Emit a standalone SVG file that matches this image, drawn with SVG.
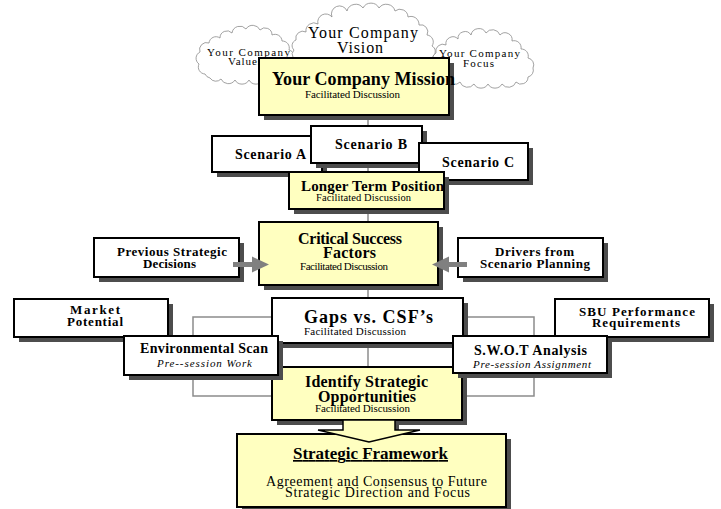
<svg xmlns="http://www.w3.org/2000/svg" width="721" height="509" viewBox="0 0 721 509">
<style>
.box{fill:#fff;stroke:#000;stroke-width:2}
.ybox{fill:#FFFFC0;stroke:#000;stroke-width:2}
.sh{fill:#4d4d4d}
.conn{stroke:#8c8c8c;stroke-width:1.5;fill:none}
.garrow{fill:#808080}
.cloud{fill:#fff;stroke:#8a8a8a;stroke-width:0.8}
text{font-family:"Liberation Serif","Times New Roman",serif;fill:#000}
.b{font-weight:bold}
.i{font-style:italic}
</style>
<rect width="721" height="509" fill="#fff"/>

<g id="clouds">
  <g id="cloud-values">
    <path class="cloud" d="M205,74 A7,7 0 0 1 199,64 A7,7 0 0 1 200,52 A7,7 0 0 1 209,43 A7,7 0 0 1 220,38 A7,7 0 0 1 232,33 A8,8 0 0 1 246,29 A8,8 0 0 1 260,30 A7,7 0 0 1 272,35 A7,7 0 0 1 282,41 A7,7 0 0 1 289,50 A7,7 0 0 1 293,61 A7,7 0 0 1 288,71 A7,7 0 0 1 277,78 A8,8 0 0 1 263,80 A8,8 0 0 1 249,80 A8,8 0 0 1 235,80 A8,8 0 0 1 221,79 A7,7 0 0 1 210,78 A7,7 0 0 1 205,74 Z"/>
    <text x="207" y="56" font-size="11" textLength="83">Your Company</text>
    <text x="228" y="65" font-size="11" textLength="34">Values</text>
  </g>
  <g id="cloud-focus">
    <path class="cloud" d="M440,74 A7,7 0 0 1 434,64 A7,7 0 0 1 436,53 A7,7 0 0 1 446,45 A7,7 0 0 1 458,39 A7,7 0 0 1 471,35 A8,8 0 0 1 486,33 A8,8 0 0 1 500,35 A7,7 0 0 1 512,41 A7,7 0 0 1 521,49 A7,7 0 0 1 528,58 A7,7 0 0 1 533,68 A7,7 0 0 1 528,77 A7,7 0 0 1 516,82 A8,8 0 0 1 502,84 A8,8 0 0 1 488,84 A8,8 0 0 1 474,84 A8,8 0 0 1 460,82 A7,7 0 0 1 448,79 A7,7 0 0 1 440,74 Z"/>
    <text x="439" y="57" font-size="11" textLength="81">Your Company</text>
    <text x="463" y="67" font-size="11" textLength="31">Focus</text>
  </g>
  <g id="cloud-vision">
    <path class="cloud" d="M300,60 A6,6 0 0 1 294,50 A6,6 0 0 1 296,40 A7,7 0 0 1 306,32 A8,8 0 0 1 318,24 A8,8 0 0 1 332,17 A8,8 0 0 1 347,11 A9,9 0 0 1 363,8 A9,9 0 0 1 379,8 A9,9 0 0 1 395,11 A8,8 0 0 1 408,17 A8,8 0 0 1 419,25 A7,7 0 0 1 427,35 A7,7 0 0 1 432,46 A6,6 0 0 1 433,56 A10,10 0 0 1 415,62 A11,11 0 0 1 395,64 A13,13 0 0 1 370,65 A13,13 0 0 1 345,64 A13,13 0 0 1 320,63 A11,11 0 0 1 300,60 Z"/>
    <text x="308" y="38" font-size="16" textLength="110">Your Company</text>
    <text x="337" y="53" font-size="16" textLength="46">Vision</text>
  </g>
</g>

<g id="connectors">
  <line class="conn" x1="368" y1="115" x2="368" y2="126"/>
  <line class="conn" x1="368" y1="163" x2="368" y2="172"/>
  <line class="conn" x1="368" y1="209" x2="368" y2="222"/>
  <line class="conn" x1="368" y1="285" x2="368" y2="298"/>
  <line class="conn" x1="368" y1="343" x2="368" y2="367"/>
  <polyline class="conn" points="272,317 193,317 193,396 272,396"/>
  <polyline class="conn" points="463,317 534,317 534,396 462,396"/>
</g>

<g id="mission">
  <rect class="sh" x="264" y="63" width="190" height="57"/>
  <rect class="ybox" x="259" y="58" width="190" height="57"/>
  <text class="b" x="272" y="85" font-size="18" textLength="183">Your Company Mission</text>
  <text x="305" y="98" font-size="11" textLength="95">Facilitated Discussion</text>
</g>

<g id="scenario-a">
  <rect class="sh" x="217" y="141" width="110" height="36"/>
  <rect class="box" x="212" y="136" width="110" height="36"/>
  <text class="b" x="235" y="159" font-size="14" textLength="71">Scenario A</text>
</g>
<g id="scenario-b">
  <rect class="sh" x="316" y="131" width="111" height="37"/>
  <rect class="box" x="311" y="126" width="111" height="37"/>
  <text class="b" x="335" y="149" font-size="14" textLength="72">Scenario B</text>
</g>
<g id="scenario-c">
  <rect class="sh" x="424" y="148" width="109" height="37"/>
  <rect class="box" x="419" y="143" width="109" height="37"/>
  <text class="b" x="442" y="167" font-size="14" textLength="72">Scenario C</text>
</g>

<g id="longer-term">
  <rect class="sh" x="294" y="177" width="155" height="37"/>
  <rect class="ybox" x="289" y="172" width="155" height="37"/>
  <text class="b" x="301" y="191" font-size="15" textLength="143">Longer Term Position</text>
  <text x="316" y="201" font-size="10.5" textLength="95">Facilitated Discussion</text>
</g>

<g id="previous">
  <rect class="sh" x="99" y="243" width="145" height="39"/>
  <rect class="box" x="94" y="238" width="145" height="39"/>
  <text class="b" x="117" y="256" font-size="13" textLength="110">Previous Strategic</text>
  <text class="b" x="143" y="268" font-size="13" textLength="53">Decisions</text>
</g>

<g id="drivers">
  <rect class="sh" x="463" y="243" width="145" height="39"/>
  <rect class="box" x="458" y="238" width="145" height="39"/>
  <text class="b" x="495" y="256" font-size="13" textLength="79">Drivers from</text>
  <text class="b" x="480" y="268" font-size="13" textLength="110">Scenario Planning</text>
</g>

<g id="csf">
  <rect class="sh" x="264" y="227" width="179" height="63"/>
  <rect class="ybox" x="259" y="222" width="179" height="63"/>
  <text class="b" x="298" y="244" font-size="16" textLength="104">Critical Success</text>
  <text class="b" x="323" y="258" font-size="16" textLength="53">Factors</text>
  <text x="300" y="270" font-size="11" textLength="88">Facilitated Discussion</text>
</g>

<g id="side-arrows">
  <rect class="garrow" x="233" y="262" width="21" height="5"/>
  <polygon class="garrow" points="252,256.5 269,264.5 252,272.5"/>
  <rect class="garrow" x="447" y="262" width="20" height="5"/>
  <polygon class="garrow" points="449,256.5 432,264.5 449,272.5"/>
</g>

<g id="gaps">
  <rect class="sh" x="277" y="303" width="191" height="45"/>
  <rect class="box" x="272" y="298" width="191" height="45"/>
  <text class="b" x="304" y="323" font-size="18" textLength="129">Gaps vs. CSF’s</text>
  <text x="304" y="335" font-size="11" textLength="102">Facilitated Discussion</text>
</g>

<g id="identify">
  <rect class="sh" x="277" y="372" width="190" height="53"/>
  <rect class="ybox" x="272" y="367" width="190" height="53"/>
  <text class="b" x="305" y="387" font-size="16" textLength="123">Identify Strategic</text>
  <text class="b" x="318" y="402" font-size="16" textLength="98">Opportunities</text>
  <text x="315" y="412" font-size="11" textLength="95">Facilitated Discussion</text>
</g>

<g id="market">
  <rect class="sh" x="19" y="304" width="154" height="38"/>
  <rect class="box" x="14" y="299" width="154" height="38"/>
  <text class="b" x="70" y="314" font-size="13" textLength="50">Market</text>
  <text class="b" x="67" y="326" font-size="13" textLength="56">Potential</text>
</g>

<g id="sbu">
  <rect class="sh" x="560" y="304" width="154" height="38"/>
  <rect class="box" x="555" y="299" width="154" height="38"/>
  <text class="b" x="579" y="316" font-size="13" textLength="116">SBU Performance</text>
  <text class="b" x="592" y="327" font-size="13" textLength="88">Requirements</text>
</g>

<g id="env-scan">
  <rect class="sh" x="129" y="341" width="154" height="39"/>
  <rect class="box" x="124" y="336" width="154" height="39"/>
  <text class="b" x="140" y="353" font-size="14" textLength="128">Environmental Scan</text>
  <text class="i" x="157" y="367" font-size="11" textLength="95">Pre--session Work</text>
</g>

<g id="swot">
  <rect class="sh" x="458" y="341" width="154" height="37"/>
  <rect class="box" x="453" y="336" width="154" height="37"/>
  <text class="b" x="474" y="355" font-size="14" textLength="113">S.W.O.T Analysis</text>
  <text class="i" x="473" y="368" font-size="11" textLength="118">Pre-session Assignment</text>
</g>

<g id="framework">
  <rect class="sh" x="242" y="439" width="269" height="73"/>
  <rect class="ybox" x="237" y="434" width="269" height="73"/>
  <text class="b" x="293" y="459" font-size="17" textLength="155" text-decoration="underline">Strategic Framework</text>
  <text x="266" y="486" font-size="14" textLength="221">Agreement and Consensus to Future</text>
  <text x="285" y="497" font-size="14" textLength="185">Strategic Direction and Focus</text>
</g>

<g id="block-arrow">
  <rect class="sh" x="395" y="421" width="4" height="9"/>
  <polygon fill="#FFFFC0" stroke="#000" stroke-width="1.5" points="343,420 343,430 318,430 369,442 420,430 395,430 395,420"/>
</g>
</svg>
